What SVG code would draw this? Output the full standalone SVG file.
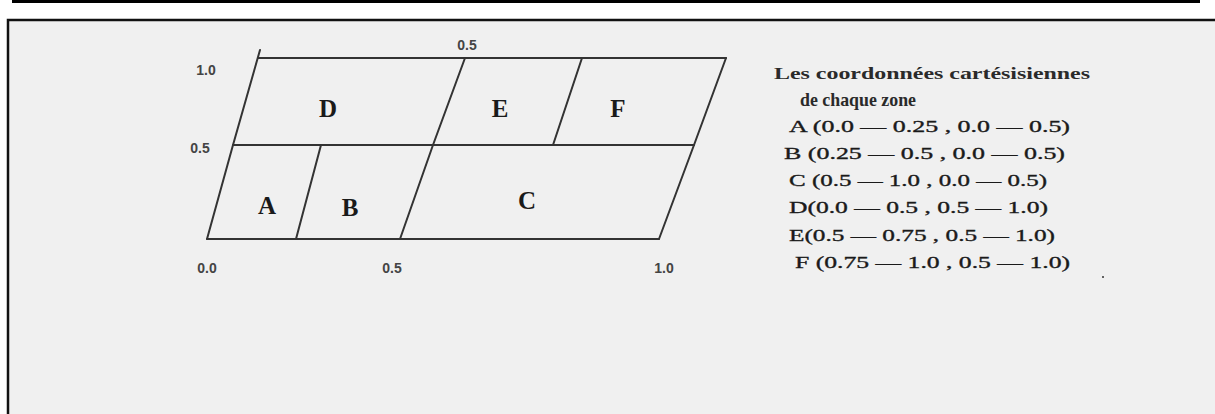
<svg xmlns="http://www.w3.org/2000/svg" width="1215" height="414" viewBox="0 0 1215 414">
<style>
.edge{stroke:#333;stroke-width:2;fill:none;stroke-linecap:round}
.ax{font-family:"Liberation Sans",Arial,sans-serif;font-size:14px;font-weight:bold;fill:#444;text-anchor:middle}
.zone{font-family:"Liberation Serif","Times New Roman",serif;font-size:25px;font-weight:bold;fill:#1a1a1a;text-anchor:middle}
.info{font-family:"Liberation Serif","Times New Roman",serif;font-size:17px;fill:#1a1a1a;stroke:#1a1a1a;stroke-width:0.35}
.title{font-family:"Liberation Serif","Times New Roman",serif;font-size:16px;font-weight:bold;fill:#2a2a2a}
.sub{font-size:19px}
</style>
<rect x="0" y="0" width="1215" height="414" fill="#ffffff"/>
<line x1="12" y1="1.5" x2="1200" y2="1.5" stroke="#000" stroke-width="3"/>
<rect x="8" y="20" width="1220" height="410" fill="#f0f0f0" stroke="#111" stroke-width="2.5"/>
<g id="connectors">
<path class="edge" d="M258,58 L726,58"/>
<path class="edge" d="M233,145 L694,145"/>
<path class="edge" d="M207,239 L659,239"/>
<path class="edge" d="M260,50 L233,145 L207,239"/>
<path class="edge" d="M726,58 L694,145 L659,239"/>
<path class="edge" d="M296,239 L321,145"/>
<path class="edge" d="M400,239 L433,145 L465,58"/>
<path class="edge" d="M553,145 L582,58"/>
</g>
<g id="axis-labels">
<text class="ax" x="206" y="75">1.0</text>
<text class="ax" x="200" y="153">0.5</text>
<text class="ax" x="467" y="50">0.5</text>
<text class="ax" x="207" y="273">0.0</text>
<text class="ax" x="392" y="273">0.5</text>
<text class="ax" x="664" y="273">1.0</text>
</g>
<g id="zone-A"><text class="zone" x="267" y="214">A</text></g>
<g id="zone-B"><text class="zone" x="350" y="216">B</text></g>
<g id="zone-C"><text class="zone" x="527" y="209">C</text></g>
<g id="zone-D"><text class="zone" x="328" y="117">D</text></g>
<g id="zone-E"><text class="zone" x="500" y="117">E</text></g>
<g id="zone-F"><text class="zone" x="618" y="117">F</text></g>
<g id="legend">
<text class="title" x="774" y="79" textLength="316" lengthAdjust="spacingAndGlyphs">Les coordonnées cartésisiennes</text>
<text class="title sub" x="800" y="106" textLength="116" lengthAdjust="spacingAndGlyphs">de chaque zone</text>
<text class="info" x="789" y="132" textLength="281" lengthAdjust="spacingAndGlyphs">A (0.0 — 0.25 , 0.0 — 0.5)</text>
<text class="info" x="784" y="159" textLength="281" lengthAdjust="spacingAndGlyphs">B (0.25 — 0.5 , 0.0 — 0.5)</text>
<text class="info" x="789" y="186" textLength="258" lengthAdjust="spacingAndGlyphs">C (0.5 — 1.0 , 0.0 — 0.5)</text>
<text class="info" x="789" y="213" textLength="259" lengthAdjust="spacingAndGlyphs">D(0.0 — 0.5 , 0.5 — 1.0)</text>
<text class="info" x="789" y="241" textLength="266" lengthAdjust="spacingAndGlyphs">E(0.5 — 0.75 , 0.5 — 1.0)</text>
<text class="info" x="795" y="268" textLength="275" lengthAdjust="spacingAndGlyphs">F (0.75 — 1.0 , 0.5 — 1.0)</text>
<circle cx="1103" cy="277" r="1" fill="#333"/>
</g>
</svg>
